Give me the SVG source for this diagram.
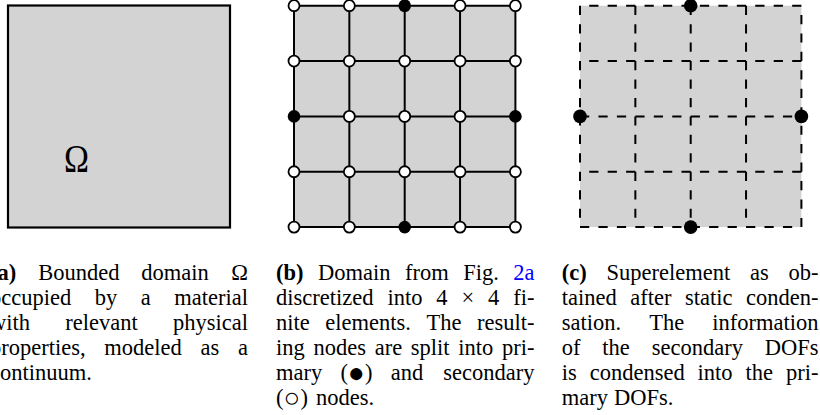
<svg xmlns="http://www.w3.org/2000/svg" width="820" height="415" viewBox="0 0 820 415">
<style>
.bg{fill:#d3d3d3}
.edge{stroke:#000;stroke-width:2;fill:none}
.dash{stroke:#000;stroke-width:2;fill:none;stroke-dasharray:9.225 9.225}
.sec{fill:#fff;stroke:#000;stroke-width:1.8}
.pri{fill:#000;stroke:none}
.cap{font-family:"Liberation Serif","Times New Roman",serif;font-size:22.5px;fill:#000}
.b{font-weight:bold}
.e{text-anchor:end}
.link{fill:#0000ff}
.sym{font-size:28px}
</style>
<rect width="820" height="415" fill="#fff"/>

<!-- Panel (a) -->
<g id="panel-a">
  <rect class="bg" x="8" y="5.5" width="222" height="222" stroke="#000" stroke-width="2.2"/>
  <text x="64" y="172" font-family="Liberation Serif, serif" font-size="40" textLength="25" lengthAdjust="spacingAndGlyphs">Ω</text>
</g>

<!-- Panel (b) -->
<g id="panel-b">
  <rect class="bg" x="294" y="5.7" width="221.4" height="221.4"/>
  <g id="connectors-b" class="edge">
    <path d="M294 5.7H515.4M294 61.05H515.4M294 116.4H515.4M294 171.75H515.4M294 227.1H515.4"/>
    <path d="M294 5.7V227.1M349.35 5.7V227.1M404.7 5.7V227.1M460.05 5.7V227.1M515.4 5.7V227.1"/>
  </g>
  <g id="nodes-b">
    <g id="b-n00"><circle class="sec" cx="294" cy="5.7" r="5.5"/></g>
    <g id="b-n10"><circle class="sec" cx="349.35" cy="5.7" r="5.5"/></g>
    <g id="b-n20"><circle class="pri" cx="404.7" cy="5.7" r="6.3"/></g>
    <g id="b-n30"><circle class="sec" cx="460.05" cy="5.7" r="5.5"/></g>
    <g id="b-n40"><circle class="sec" cx="515.4" cy="5.7" r="5.5"/></g>
    <g id="b-n01"><circle class="sec" cx="294" cy="61.05" r="5.5"/></g>
    <g id="b-n11"><circle class="sec" cx="349.35" cy="61.05" r="5.5"/></g>
    <g id="b-n21"><circle class="sec" cx="404.7" cy="61.05" r="5.5"/></g>
    <g id="b-n31"><circle class="sec" cx="460.05" cy="61.05" r="5.5"/></g>
    <g id="b-n41"><circle class="sec" cx="515.4" cy="61.05" r="5.5"/></g>
    <g id="b-n02"><circle class="pri" cx="294" cy="116.4" r="6.3"/></g>
    <g id="b-n12"><circle class="sec" cx="349.35" cy="116.4" r="5.5"/></g>
    <g id="b-n22"><circle class="sec" cx="404.7" cy="116.4" r="5.5"/></g>
    <g id="b-n32"><circle class="sec" cx="460.05" cy="116.4" r="5.5"/></g>
    <g id="b-n42"><circle class="pri" cx="515.4" cy="116.4" r="6.3"/></g>
    <g id="b-n03"><circle class="sec" cx="294" cy="171.75" r="5.5"/></g>
    <g id="b-n13"><circle class="sec" cx="349.35" cy="171.75" r="5.5"/></g>
    <g id="b-n23"><circle class="sec" cx="404.7" cy="171.75" r="5.5"/></g>
    <g id="b-n33"><circle class="sec" cx="460.05" cy="171.75" r="5.5"/></g>
    <g id="b-n43"><circle class="sec" cx="515.4" cy="171.75" r="5.5"/></g>
    <g id="b-n04"><circle class="sec" cx="294" cy="227.1" r="5.5"/></g>
    <g id="b-n14"><circle class="sec" cx="349.35" cy="227.1" r="5.5"/></g>
    <g id="b-n24"><circle class="pri" cx="404.7" cy="227.1" r="6.3"/></g>
    <g id="b-n34"><circle class="sec" cx="460.05" cy="227.1" r="5.5"/></g>
    <g id="b-n44"><circle class="sec" cx="515.4" cy="227.1" r="5.5"/></g>
  </g>
</g>

<!-- Panel (c) -->
<g id="panel-c">
  <rect class="bg" x="580" y="5.7" width="221.4" height="221.4"/>
  <g id="connectors-c" class="dash">
    <path d="M801.4 5.7H580"/>
    <path d="M801.4 61.05H580"/>
    <path d="M580 116.4H801.4"/>
    <path d="M801.4 171.75H580"/>
    <path d="M580 227.1H801.4"/>
    <path d="M580 5.7V227.1"/>
    <path d="M635.35 5.7V227.1"/>
    <path d="M690.7 5.7V227.1"/>
    <path d="M746.05 5.7V227.1"/>
    <path d="M801.4 227.1V5.7"/>
  </g>
  <g id="nodes-c">
    <g id="c-top"><circle class="pri" cx="690.7" cy="5.7" r="6.8"/></g>
    <g id="c-left"><circle class="pri" cx="580" cy="116.4" r="6.8"/></g>
    <g id="c-right"><circle class="pri" cx="801.4" cy="116.4" r="6.8"/></g>
    <g id="c-bottom"><circle class="pri" cx="690.7" cy="227.1" r="6.8"/></g>
  </g>
</g>

<!-- Captions -->
<g id="caption-a" class="cap">
  <text y="280"><tspan x="-10" class="b">(a)</tspan><tspan x="38.2">Bounded</tspan><tspan x="141.3">domain</tspan><tspan x="248" class="e">Ω</tspan></text>
  <text y="305"><tspan x="-10">occupied</tspan><tspan x="94.8">by</tspan><tspan x="140.8">a</tspan><tspan x="248" class="e">material</tspan></text>
  <text y="330"><tspan x="-10">with</tspan><tspan x="65.3">relevant</tspan><tspan x="248" class="e">physical</tspan></text>
  <text y="355"><tspan x="-10">properties,</tspan><tspan x="104.3">modeled</tspan><tspan x="200.5">as</tspan><tspan x="248" class="e">a</tspan></text>
  <text y="380"><tspan x="-10">continuum.</tspan></text>
</g>

<g id="caption-b" class="cap">
  <text y="280"><tspan x="276" class="b">(b)</tspan><tspan x="318">Domain</tspan><tspan x="404.9">from</tspan><tspan x="463.2">Fig.</tspan><tspan x="534.5" class="e link">2a</tspan></text>
  <text y="305"><tspan x="276">discretized</tspan><tspan x="387.4">into</tspan><tspan x="436.3">4</tspan><tspan x="461.5">×</tspan><tspan x="488.1">4</tspan><tspan x="534.5" class="e">fi-</tspan></text>
  <text y="330"><tspan x="276">nite</tspan><tspan x="325.3">elements.</tspan><tspan x="426.5">The</tspan><tspan x="534.5" class="e">result-</tspan></text>
  <text y="355"><tspan x="276">ing</tspan><tspan x="313.5">nodes</tspan><tspan x="374.7">are</tspan><tspan x="410.8">split</tspan><tspan x="458.3">into</tspan><tspan x="534.5" class="e">pri-</tspan></text>
  <text y="380"><tspan x="276">mary</tspan><tspan x="340.5">(<tspan class="sym" dy="2">●</tspan><tspan dy="-2">)</tspan></tspan><tspan x="390.8">and</tspan><tspan x="534.5" class="e">secondary</tspan></text>
  <text y="405"><tspan x="276">(<tspan class="sym" dy="2">○</tspan><tspan dy="-2">)</tspan></tspan><tspan x="316">nodes.</tspan></text>
</g>

<g id="caption-c" class="cap">
  <text y="280"><tspan x="561.7" class="b">(c)</tspan><tspan x="606.5">Superelement</tspan><tspan x="750">as</tspan><tspan x="818.5" class="e">ob-</tspan></text>
  <text y="305"><tspan x="561.7">tained</tspan><tspan x="630.2">after</tspan><tspan x="685">static</tspan><tspan x="818.5" class="e">conden-</tspan></text>
  <text y="330"><tspan x="561.7">sation.</tspan><tspan x="649.2">The</tspan><tspan x="818.5" class="e">information</tspan></text>
  <text y="355"><tspan x="561.7">of</tspan><tspan x="602.3">the</tspan><tspan x="651.7">secondary</tspan><tspan x="818.5" class="e">DOFs</tspan></text>
  <text y="380"><tspan x="561.7">is</tspan><tspan x="589.7">condensed</tspan><tspan x="697.6">into</tspan><tspan x="745.6">the</tspan><tspan x="818.5" class="e">pri-</tspan></text>
  <text y="405"><tspan x="561.7">mary</tspan><tspan x="614">DOFs.</tspan></text>
</g>
</svg>
